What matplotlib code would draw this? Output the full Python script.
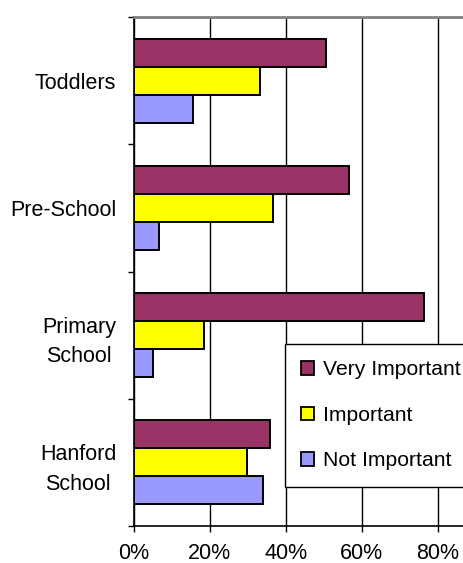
import matplotlib
matplotlib.use("Agg")
import matplotlib.pyplot as plt
import numpy as np
from matplotlib.ticker import FixedLocator, PercentFormatter

plt.rcParams['font.family'] = ['Liberation Sans', 'DejaVu Sans']

categories = ["Toddlers", "Pre-School", "Primary\nSchool", "Hanford\nSchool"]
series_names = ["Very Important", "Important", "Not Important"]
very_important = [50.5, 56.7, 76.3, 35.8]
important = [33.2, 36.7, 18.4, 29.8]
not_important = [15.7, 6.7, 5.1, 34.1]
colors = ["#993366", "#FFFF00", "#9999FF"]
x_ticks = [0, 20, 40, 60, 80, 100]

W, H = 464, 563
fig = plt.figure(figsize=(W / 100, H / 100), dpi=100)

# plot area in pixel coordinates (the right part runs past the figure edge)
left_px, right_px, top_px, bottom_px = 133.7, 513.7, 17.0, 526.0
ax = fig.add_axes([left_px / W, (H - bottom_px) / H,
                   (right_px - left_px) / W, (bottom_px - top_px) / H])

y = np.arange(len(categories))
bar_h = 0.22
for i, (vals, name, col) in enumerate(zip([very_important, important, not_important],
                                          series_names, colors)):
    ax.barh(y + (i - 1) * bar_h, vals, height=bar_h, color=col,
            edgecolor="black", linewidth=1.4, label=name, zorder=3)

ax.set_xlim(0, 100)
ax.set_ylim(len(categories) - 0.5, -0.5)

ax.xaxis.set_major_locator(FixedLocator(x_ticks))
ax.xaxis.set_major_formatter(PercentFormatter(decimals=0))
ax.grid(axis="x", color="black", linewidth=1.0, zorder=1)
ax.set_axisbelow(True)

# category boundaries as major ticks, labels centred on minor ticks
ax.yaxis.set_major_locator(FixedLocator(np.arange(-0.5, len(categories), 1.0)))
ax.yaxis.set_major_formatter(plt.NullFormatter())
ax.yaxis.set_minor_locator(FixedLocator(y))
ax.set_yticklabels(categories, minor=True, fontsize=15.5, linespacing=1.55,
                   multialignment="center")
ax.tick_params(axis="y", which="major", direction="out", length=4.5,
               width=1.0, color="black")
ax.tick_params(axis="y", which="minor", length=0, pad=12.5)
ax.tick_params(axis="x", which="major", direction="out", length=4.5,
               width=1.0, color="black", labelsize=15.5, pad=8.0)

for side in ("left", "bottom"):
    ax.spines[side].set_color("black")
    ax.spines[side].set_linewidth(1.2)
for side in ("top", "right"):
    ax.spines[side].set_color("#808080")
    ax.spines[side].set_linewidth(2.0)

leg = ax.legend(loc="upper left",
                bbox_to_anchor=(285.0 / W, (H - 344) / H),
                bbox_transform=fig.transFigure,
                fontsize=15.2, frameon=True, fancybox=False, shadow=False,
                borderpad=0.78, borderaxespad=0.0, labelspacing=1.25,
                handlelength=0.6, handleheight=0.6, handletextpad=0.42)
leg.get_frame().set_edgecolor("black")
leg.get_frame().set_linewidth(1.0)
leg.get_frame().set_facecolor("white")
leg.get_frame().set_alpha(1.0)
for p in leg.get_patches():
    p.set_linewidth(1.3)

fig.savefig("out.png", dpi=100)
